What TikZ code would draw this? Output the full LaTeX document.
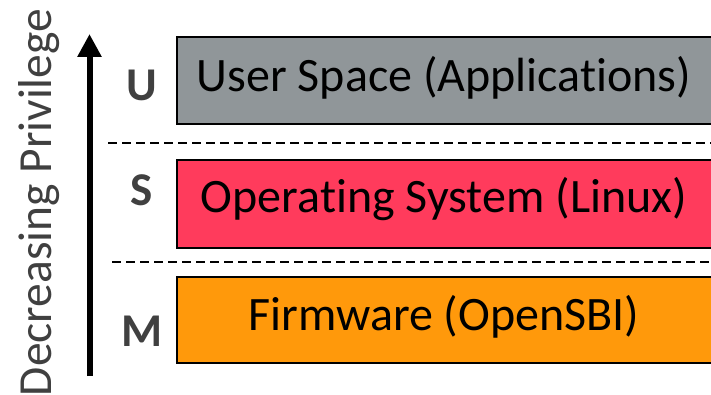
\documentclass[tikz,border=0pt]{standalone}
\usepackage{fontspec}
\setmainfont{Carlito}[Ligatures={NoCommon}]
\usetikzlibrary{arrows.meta}
\definecolor{boxgray}{HTML}{909699}
\definecolor{boxred}{HTML}{FF3B5C}
\definecolor{boxorange}{HTML}{FF990B}
\definecolor{txtgray}{HTML}{404040}
\tikzset{
  layer/.style={draw=black, line width=1.8pt, inner sep=0pt},
  layertext/.style={inner sep=0pt, anchor=base, font=\fontsize{48}{58}\selectfont, text=black},
  lvl/.style={inner sep=0pt, anchor=base, font=\fontsize{47}{56}\selectfont\bfseries, text=txtgray},
  sep/.style={draw=black, line width=2.4pt, dash pattern=on 9pt off 5pt},
  axis/.style={draw=black, line width=6pt, -{Triangle[length=23pt,width=23pt]}},
}
\begin{document}
\begin{tikzpicture}[x=1pt,y=1pt]
\useasboundingbox (0,0) rectangle (711,-395);
\clip (0,0) rectangle (711,-395);
% layer boxes
\draw[layer, fill=boxgray] (177,-37) rectangle (716,-124);
\draw[layer, fill=boxred] (177,-160) rectangle (716,-248);
\draw[layer, fill=boxorange] (177,-277) rectangle (716,-363);
\node[layertext] (u) at (444,-92) {User Space (Applications)};
\node[layertext] (s) at (444,-213) {Operating System (Linux)};
\node[layertext] (m) at (444,-330) {Firmware (OpenSBI)};
% level letters
\node[lvl] (lu) at (142,-101) {U};
\node[lvl] (ls) at (142,-206) {S};
\node[lvl] (lm) at (142,-346) {M};
% dashed separators
\coordinate (d1a) at (108,-143);
\coordinate (d1b) at (711,-143);
\coordinate (d2a) at (112,-262);
\coordinate (d2b) at (711,-262);
\draw[sep] (d1a) -- (d1b);
\draw[sep] (d2a) -- (d2b);
% privilege axis
\coordinate (ab) at (89.5,-376);
\coordinate (at) at (89.5,-34);
\draw[axis] (ab) -- (at);
\node[inner sep=0pt, anchor=base, rotate=90, font=\fontsize{47.5}{57}\selectfont, text=txtgray] (lab) at (51.5,-202.5) {Decreasing Privilege};
\end{tikzpicture}
\end{document}
